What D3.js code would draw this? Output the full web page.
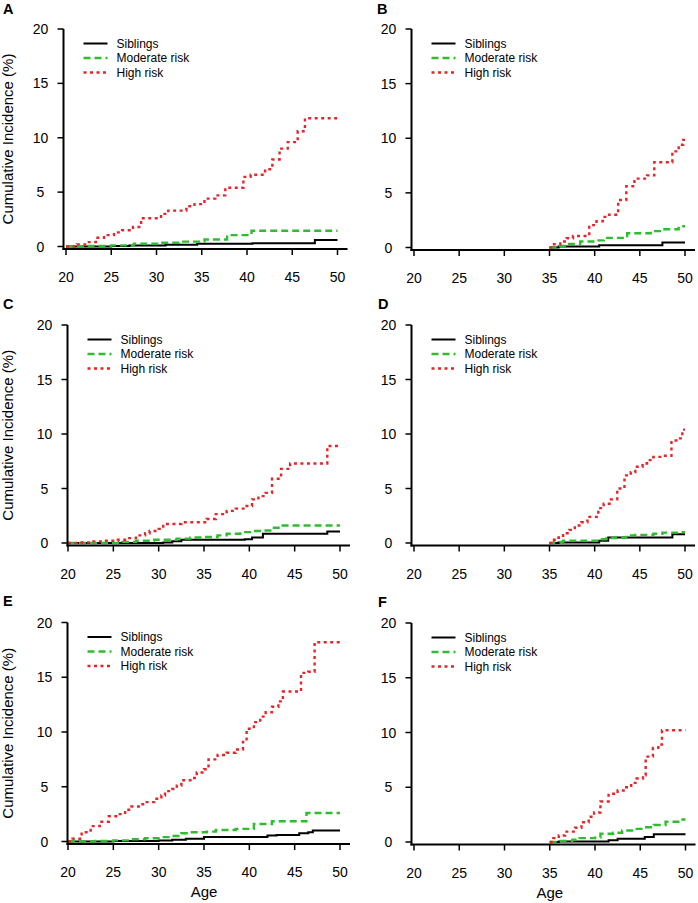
<!DOCTYPE html>
<html>
<head>
<meta charset="utf-8">
<script src="https://cdn.jsdelivr.net/npm/d3@7"></script>
<style>
  html, body { margin: 0; padding: 0; background: #fff; }
  svg { display: block; font-family: Arial, "Liberation Sans", sans-serif; }
</style>
</head>
<body>
<svg id="chart" width="698" height="903"></svg>
<script>
// ---------- data (age, cumulative incidence %) ----------
const seriesNames = ["Siblings", "Moderate risk", "High risk"];
const xTicks = [20, 25, 30, 35, 40, 45, 50];
const yTicks = [0, 5, 10, 15, 20];
const panelLabels = ["A", "B", "C", "D", "E", "F"];

const sibA  = [[20,0],[25,0.05],[27,0.1],[31,0.15],[34.5,0.25],[40.6,0.3],[47.5,0.6],[50,0.6]];
const modA  = [[20,0],[22.5,0.05],[25,0.1],[27.5,0.25],[30.5,0.35],[32.5,0.45],[35.3,0.65],[37.8,1.05],[40.5,1.45],[50,1.45]];
const highA = [[20,0],[21.2,0.2],[22.3,0.4],[23.3,0.8],[24.2,1.05],[25.3,1.3],[26.2,1.5],[27.4,1.8],[28.3,2.6],[30.5,3.0],[31.3,3.3],[33.3,3.7],[34.2,3.9],[35.3,4.4],[36.5,4.7],[37.6,5.4],[39.6,6.4],[40.4,6.6],[42,7.1],[42.8,8.0],[43.6,9.0],[44.5,9.6],[45.6,10.6],[46.4,11.8],[50,11.8]];

const sibB  = [[35,0],[36,0.1],[40.5,0.2],[47.5,0.45],[50,0.45]];
const modB  = [[35,0],[36,0.15],[37,0.33],[38.4,0.55],[40,0.65],[41,0.88],[43.6,1.3],[46.2,1.5],[47.4,1.67],[49.3,1.95],[50,1.95]];
const highB = [[35,0],[35.5,0.3],[36.2,0.55],[36.9,0.85],[37.6,1.05],[39.4,2.05],[40.2,2.4],[40.9,2.8],[41.6,3.0],[42.6,4.35],[43.5,5.6],[44.4,6.3],[45.8,6.6],[46.6,7.8],[48.6,8.8],[49.3,9.4],[49.8,9.85],[50,9.85]];

const sibC  = [[20,0],[30.5,0.05],[31.5,0.15],[32.5,0.3],[39.5,0.35],[40.3,0.5],[41.5,0.85],[48.6,1.05],[50,1.05]];
const modC  = [[20,0],[26,0.1],[27.5,0.2],[29.5,0.3],[32,0.4],[33.5,0.5],[35,0.55],[36.5,0.7],[37.5,0.85],[39,1.0],[40.5,1.1],[41.5,1.15],[42.5,1.4],[43.5,1.6],[50,1.6]];
const highC = [[20,0],[21,0.05],[22.5,0.15],[24,0.2],[25.5,0.3],[26.5,0.45],[27.5,0.7],[28.5,0.9],[29,1.1],[30,1.3],[30.5,1.75],[32.5,1.9],[35.3,2.2],[36.3,2.65],[37.5,2.95],[38.5,3.15],[39.5,3.4],[40.3,4.0],[41,4.3],[41.8,4.6],[42.5,5.9],[43.5,6.8],[44.5,7.3],[48.6,8.9],[50,8.9]];

const sibD  = [[35,0],[36,0.05],[40.5,0.2],[41.5,0.5],[48.6,0.8],[50,0.8]];
const modD  = [[35,0],[35.5,0.1],[36.5,0.2],[40.5,0.35],[41.3,0.45],[42.3,0.5],[43.5,0.7],[44.5,0.75],[46.5,0.85],[47.5,0.95],[49.5,1.0],[50,1.0]];
const highD = [[35,0],[35.5,0.3],[36,0.5],[36.5,0.9],[37.2,1.2],[37.8,1.6],[38.5,1.9],[39.2,2.4],[40.4,3.2],[41,3.6],[41.8,4.0],[42.5,5.0],[43.3,6.2],[44,6.5],[44.5,7.0],[45.3,7.3],[45.8,7.6],[46.5,7.9],[47.5,8.0],[48.5,9.4],[49.3,9.6],[49.7,10.4],[50,10.4]];

const sibE  = [[20,0],[25,0.05],[30,0.1],[31.5,0.15],[33,0.25],[35,0.4],[42,0.55],[43,0.6],[45.5,0.75],[46.5,0.85],[47,1.0],[50,1.0]];
const modE  = [[20,0],[23,0.05],[25,0.1],[27,0.2],[28.5,0.3],[30,0.4],[31.5,0.5],[32.5,0.75],[33.5,0.85],[35.3,0.9],[36.3,1.05],[38.5,1.15],[40.5,1.6],[42.5,1.85],[46.3,2.6],[50,2.6]];
const highE = [[20,0],[20.5,0.25],[21.5,0.85],[22.5,1.4],[23.5,1.8],[24.5,2.3],[25.5,2.5],[26.3,2.9],[27,3.2],[27.8,3.4],[28.5,3.6],[29.5,3.9],[30.3,4.2],[30.7,4.6],[31.5,4.8],[32,5.1],[32.5,5.6],[33.5,5.8],[34.2,6.3],[35,6.6],[35.5,7.5],[36.5,7.9],[37.5,8.1],[38.5,8.4],[39.3,9.1],[39.7,10.3],[40.5,10.9],[41.2,11.4],[41.8,11.8],[42.5,12.3],[43.2,12.8],[43.7,13.7],[45.7,15.4],[46.5,15.5],[47.2,18.2],[50,18.2]];

const sibF  = [[35,0],[36,0.05],[41.5,0.15],[42.5,0.3],[45.5,0.45],[46.5,0.7],[50,0.7]];
const modF  = [[35,0],[36,0.1],[37.5,0.2],[38.3,0.35],[40,0.4],[40.6,0.75],[42,0.85],[43,1.05],[44.3,1.2],[45.5,1.35],[46.5,1.55],[47.8,1.85],[49.5,2.05],[50,2.05]];
const highF = [[35,0],[35.4,0.35],[36,0.6],[36.7,0.95],[37.8,1.3],[38.5,1.8],[39.3,2.3],[39.9,2.7],[40.6,3.7],[41.5,4.4],[42.5,4.7],[43.3,5.0],[44,5.4],[44.6,5.8],[45.3,6.1],[45.6,7.8],[46.4,8.6],[47,8.9],[47.4,10.2],[50,10.2]];

const panelSeries = [
  [sibA, modA, highA], [sibB, modB, highB],
  [sibC, modC, highC], [sibD, modD, highD],
  [sibE, modE, highE], [sibF, modF, highF]
];

// ---------- layout ----------
const layout = [
  {axisX: 63.5,  xr: [66, 337.5], yr: [246.5, 29],  axisY: 249,   lx: 3,   ly: 14,  left: true,  bottom: false},
  {axisX: 411.5, xr: [414, 685],  yr: [247.5, 29],  axisY: 250,   lx: 377, ly: 13.5,left: false, bottom: false},
  {axisX: 67.5,  xr: [68, 340],   yr: [543, 325],   axisY: 545.5, lx: 3,   ly: 308.5,left: true, bottom: false},
  {axisX: 411.5, xr: [414, 685],  yr: [543, 325],   axisY: 545.5, lx: 378, ly: 308.5,left: false,bottom: false},
  {axisX: 67.5,  xr: [68, 340],   yr: [841.5, 622.5],axisY: 844,  lx: 3,   ly: 606, left: true,  bottom: true},
  {axisX: 411.5, xr: [414, 685.5],yr: [842, 623],   axisY: 844.5, lx: 378, ly: 607, left: false, bottom: true}
];

const colors = ["#000000", "#2ebd2e", "#e5252a"];
const dashes = [null, "7,4", "3,3.5"];
const widths = [2, 2.4, 2.4];

const svg = d3.select("#chart");

layout.forEach((L, i) => {
  const g = svg.append("g");
  const x = d3.scaleLinear().domain([20, 50]).range(L.xr);
  const y = d3.scaleLinear().domain([0, 20]).range(L.yr);

  // panel letter
  g.append("text").attr("x", L.lx).attr("y", L.ly)
    .attr("font-size", 14.5).attr("font-weight", "bold").text(panelLabels[i]);

  // series
  const line = d3.line().x(d => x(d[0])).y(d => y(d[1])).curve(d3.curveStepAfter);
  panelSeries[i].forEach((s, k) => {
    g.append("path").datum(s).attr("d", line)
      .attr("fill", "none").attr("stroke", colors[k])
      .attr("stroke-width", widths[k])
      .attr("stroke-dasharray", dashes[k]);
  });

  // axes lines
  g.append("line").attr("x1", L.axisX).attr("x2", L.axisX)
    .attr("y1", y(20)).attr("y2", L.axisY + 1)
    .attr("stroke", "#000").attr("stroke-width", 2);
  g.append("line").attr("x1", L.axisX - 1).attr("x2", x(50) + 10)
    .attr("y1", L.axisY).attr("y2", L.axisY)
    .attr("stroke", "#000").attr("stroke-width", 2);

  // y ticks
  yTicks.forEach(t => {
    g.append("line").attr("x1", L.axisX - 6).attr("x2", L.axisX)
      .attr("y1", y(t)).attr("y2", y(t)).attr("stroke", "#000").attr("stroke-width", 1.5);
    g.append("text").attr("x", L.axisX - 23).attr("y", y(t) + 5)
      .attr("text-anchor", "middle").attr("font-size", 14).text(t);
  });
  // x ticks
  xTicks.forEach(t => {
    g.append("line").attr("x1", x(t)).attr("x2", x(t))
      .attr("y1", L.axisY).attr("y2", L.axisY + 6).attr("stroke", "#000").attr("stroke-width", 1.5);
    g.append("text").attr("x", x(t)).attr("y", L.axisY + 33)
      .attr("text-anchor", "middle").attr("font-size", 14).text(t);
  });

  // legend
  const lgX = L.axisX + 20, lgY = y(20) + 14.5;
  seriesNames.forEach((nm, k) => {
    const yy = lgY + k * 14.5;
    g.append("line").attr("x1", lgX).attr("x2", lgX + 24)
      .attr("y1", yy).attr("y2", yy)
      .attr("stroke", colors[k]).attr("stroke-width", widths[k])
      .attr("stroke-dasharray", dashes[k]);
    g.append("text").attr("x", lgX + 33).attr("y", yy + 4.3)
      .attr("font-size", 12).text(nm);
  });

  // y axis title
  if (L.left) {
    const cy = (y(20) + L.axisY) / 2;
    g.append("text").attr("transform", `translate(13,${cy}) rotate(-90)`)
      .attr("text-anchor", "middle").attr("font-size", 15)
      .text("Cumulative Incidence (%)");
  }
  // x axis title
  if (L.bottom) {
    g.append("text").attr("x", (L.xr[0] + L.xr[1]) / 2).attr("y", L.axisY + 53)
      .attr("text-anchor", "middle").attr("font-size", 15).text("Age");
  }
});
</script>
</body>
</html>
